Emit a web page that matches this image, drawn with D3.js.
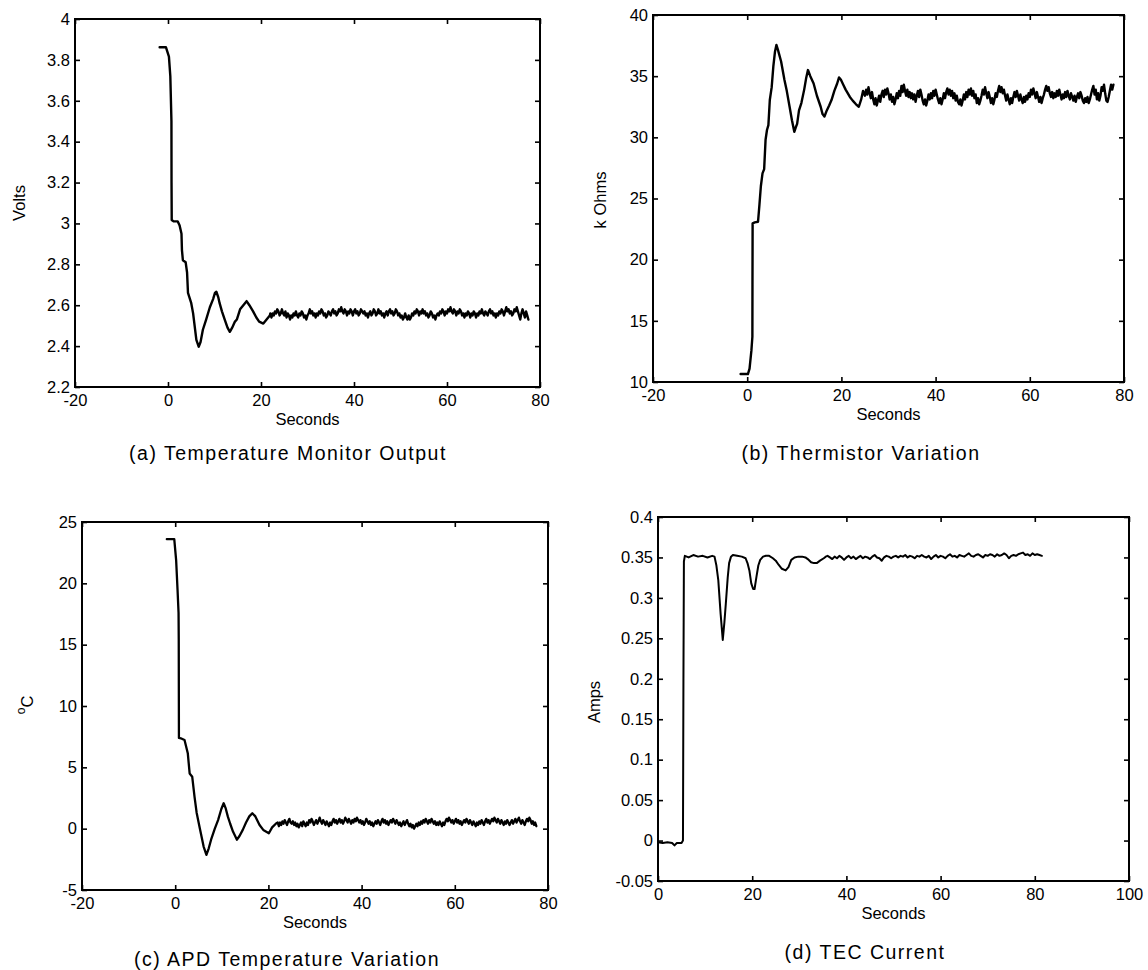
<!DOCTYPE html>
<html><head><meta charset="utf-8">
<script src="https://cdn.jsdelivr.net/npm/d3@7"></script>
<style>
body{margin:0;background:#fff}
svg{display:block}
text{font-family:"Liberation Sans",Arial,Helvetica,sans-serif;fill:#000}
</style>
</head><body>
<svg id="chart" width="1148" height="970"></svg>
<script>
// ---------- DATA ----------
// (a) Temperature Monitor Output (Volts)
const aTransient = [[-1.8,3.862],[-0.45,3.862],[0.2,3.816],[0.5,3.72],[0.74,3.5],[0.76,3.2],[0.8,3.017],[1.2,3.01],[2.1,3.01],[2.5,2.99],[2.9,2.95],[3.0,2.87],[3.2,2.82],[3.8,2.81],[4.1,2.76],[4.3,2.66],[5.0,2.61],[5.4,2.56],[6.1,2.43],[6.6,2.397],[7.0,2.42],[7.5,2.48],[8.2,2.53],[9.0,2.59],[9.7,2.63],[10.1,2.66],[10.4,2.666],[10.8,2.64],[11.1,2.61],[11.6,2.57],[12.2,2.53],[12.8,2.49],[13.3,2.47],[13.8,2.49],[14.4,2.52],[14.8,2.53],[15.5,2.58],[16.2,2.60],[16.9,2.62],[17.5,2.60],[18.3,2.57],[19.0,2.54],[19.6,2.52],[20.5,2.51],[21.2,2.53],[21.9,2.55],[22.0,2.56]];
const aSteadyStart = 22.25, aSteadyStep = 0.25;
const aSteady = [2.54,2.56,2.55,2.57,2.56,2.58,2.57,2.55,
2.56,2.58,2.56,2.55,2.57,2.54,2.56,2.55,
2.53,2.55,2.54,2.56,2.55,2.57,2.55,2.54,
2.56,2.55,2.57,2.56,2.54,2.55,2.53,2.55,
2.56,2.58,2.56,2.57,2.55,2.56,2.54,2.56,
2.55,2.57,2.56,2.58,2.57,2.55,2.56,2.54,
2.55,2.57,2.56,2.55,2.57,2.58,2.56,2.57,
2.55,2.56,2.58,2.57,2.59,2.57,2.56,2.58,
2.57,2.55,2.57,2.56,2.58,2.57,2.55,2.57,
2.58,2.56,2.57,2.55,2.56,2.58,2.57,2.56,
2.57,2.55,2.56,2.54,2.56,2.57,2.55,2.56,
2.58,2.57,2.55,2.56,2.58,2.56,2.57,2.55,
2.56,2.54,2.56,2.57,2.55,2.57,2.58,2.56,
2.57,2.55,2.56,2.58,2.57,2.55,2.56,2.54,
2.55,2.53,2.54,2.56,2.54,2.53,2.55,2.53,
2.54,2.56,2.55,2.57,2.56,2.58,2.57,2.55,
2.57,2.56,2.58,2.56,2.57,2.55,2.56,2.54,
2.55,2.57,2.56,2.54,2.55,2.53,2.55,2.56,
2.55,2.57,2.56,2.58,2.57,2.55,2.57,2.56,
2.58,2.57,2.59,2.57,2.56,2.58,2.57,2.55,
2.57,2.56,2.58,2.57,2.55,2.56,2.54,2.56,
2.55,2.57,2.56,2.54,2.56,2.55,2.57,2.56,
2.54,2.56,2.55,2.57,2.56,2.58,2.56,2.55,
2.57,2.56,2.55,2.57,2.58,2.56,2.57,2.55,
2.56,2.54,2.56,2.55,2.57,2.56,2.58,2.57,
2.55,2.57,2.59,2.57,2.58,2.56,2.57,2.55,
2.56,2.58,2.57,2.59,2.57,2.55,2.53,2.56,
2.58,2.56,2.54,2.57,2.55,2.53];
const aXTicks = [-20,0,20,40,60,80];
const aXTickLabels = ["-20","0","20","40","60","80"];
const aYTicks = [2.2,2.4,2.6,2.8,3.0,3.2,3.4,3.6,3.8,4.0];
const aYTickLabels = ["2.2","2.4","2.6","2.8","3","3.2","3.4","3.6","3.8","4"];

// (b) Thermistor Variation (k Ohms)
const bTransient = [[-1.4,10.65],[0.15,10.65],[0.5,11.1],[0.9,12.6],[1.1,13.7],[1.12,18],[1.15,22.97],[1.6,23.05],[2.3,23.1],[2.6,24.5],[2.9,26.0],[3.25,27.05],[3.6,27.4],[3.9,29.8],[4.2,30.6],[4.5,31.0],[4.8,33.05],[5.2,34.1],[5.55,35.8],[5.9,37.0],[6.2,37.55],[6.5,37.2],[6.7,36.9],[7.2,36.2],[7.9,34.7],[8.4,33.8],[9.0,32.5],[9.5,31.4],[10.0,30.45],[10.3,30.8],[10.6,31.1],[11.0,32.2],[11.5,32.8],[12.1,33.9],[12.5,34.8],[12.9,35.5],[13.4,35.0],[14.1,34.4],[14.8,33.4],[15.6,32.5],[16.0,31.9],[16.4,31.7],[16.9,32.2],[17.4,32.6],[17.9,33.05],[18.5,33.8],[19.1,34.4],[19.5,34.9],[19.9,34.7],[20.4,34.3],[20.9,33.9],[21.8,33.3],[22.4,33.0],[23.1,32.7],[23.7,32.5],[24.2,33.1],[24.6,33.8]];
const bSteadyStart = 25, bSteadyStep = 0.25;
const bSteady = [33.4,33.9,33.5,34.1,33.6,33.2,33.7,33.1,
32.7,33.2,32.6,33.0,33.4,32.9,33.5,33.8,
33.3,33.9,33.5,34.0,33.6,33.1,33.5,32.9,
33.3,32.7,33.1,33.6,33.2,33.8,33.4,34.2,
33.7,34.3,33.8,33.4,33.9,33.3,33.7,33.2,
33.6,33.1,33.5,32.9,33.4,33.8,33.3,33.9,
33.5,33.0,32.7,33.1,32.6,33.0,33.5,33.1,
33.6,33.2,33.8,33.4,33.9,33.5,33.1,32.8,
33.2,32.7,33.1,33.6,33.2,33.7,34.0,33.5,
33.9,33.4,33.8,33.2,33.6,33.0,33.4,32.9,
32.7,33.1,32.6,33.0,33.5,33.1,33.7,33.3,
33.9,33.5,34.0,33.4,33.8,33.2,33.5,32.8,
33.2,32.7,33.0,33.4,33.9,33.5,34.1,33.6,
33.2,33.7,33.3,32.8,33.2,32.7,33.1,33.6,
33.3,33.8,34.2,33.7,34.1,33.6,33.9,33.4,
33.0,33.5,33.1,32.7,33.2,32.8,33.3,33.7,
33.3,33.8,33.4,33.0,33.5,33.1,32.8,33.3,
32.9,33.4,33.1,33.6,33.3,33.9,33.5,34.0,
33.6,33.2,33.7,33.3,32.9,33.3,32.8,33.2,
33.5,33.9,34.2,33.8,34.1,33.6,33.3,33.7,
33.2,33.6,33.3,33.8,33.4,33.9,33.5,33.1,
33.5,33.2,33.7,33.3,33.8,33.4,33.1,33.6,
33.3,33.0,33.4,32.9,33.3,33.6,33.2,33.7,
33.4,33.0,32.8,33.2,32.9,33.3,32.8,33.1,
33.5,33.9,34.2,33.5,33.9,33.1,33.6,33.0,
33.4,34.1,33.8,34.3,33.6,33.0,32.9,33.3,
33.8,34.3,33.9,34.3];
const bXTicks = [-20,0,20,40,60,80];
const bXTickLabels = ["-20","0","20","40","60","80"];
const bYTicks = [10,15,20,25,30,35,40];
const bYTickLabels = ["10","15","20","25","30","35","40"];

// (c) APD Temperature Variation (deg C)
const cTransient = [[-1.8,23.6],[-0.2,23.6],[0.2,21.9],[0.5,19.5],[0.72,17.6],[0.76,15.4],[0.8,7.4],[1.2,7.37],[2.0,7.23],[2.7,6.15],[3.1,4.5],[3.65,4.24],[4.15,2.6],[4.6,1.3],[5.2,0.17],[6.1,-1.46],[6.7,-2.14],[7.2,-1.6],[7.7,-0.9],[8.5,0.0],[9.2,0.7],[9.9,1.6],[10.4,2.07],[10.8,1.7],[11.3,0.98],[11.8,0.4],[12.4,-0.24],[13.25,-0.9],[13.8,-0.6],[14.5,-0.1],[15.2,0.5],[15.9,1.0],[16.55,1.26],[17.2,1.0],[18.1,0.3],[18.9,-0.1],[20.1,-0.37],[20.8,0.1],[21.7,0.44],[22.0,0.5]];
const cSteadyStart = 22.25, cSteadyStep = 0.25;
const cSteady = [0.2,0.5,0.3,0.6,0.4,0.7,0.5,0.3,
0.6,0.8,0.5,0.4,0.6,0.3,0.5,0.2,
0.4,0.1,0.3,0.5,0.2,0.6,0.4,0.2,
0.5,0.3,0.7,0.5,0.8,0.6,0.3,0.5,
0.7,0.4,0.6,0.9,0.6,0.4,0.7,0.5,
0.3,0.6,0.4,0.2,0.5,0.3,0.6,0.8,
0.5,0.7,0.4,0.6,0.8,0.5,0.7,0.4,
0.6,0.9,0.7,0.5,0.8,0.6,0.4,0.7,
0.5,0.8,0.6,0.9,0.7,0.5,0.7,0.4,
0.6,0.3,0.5,0.8,0.6,0.4,0.6,0.3,
0.5,0.2,0.4,0.6,0.4,0.7,0.5,0.3,
0.6,0.8,0.5,0.7,0.4,0.6,0.3,0.5,
0.7,0.5,0.8,0.6,0.4,0.7,0.5,0.3,
0.5,0.2,0.4,0.6,0.3,0.5,0.7,0.4,
0.2,0.4,0.1,0.3,0.0,0.2,0.4,0.2,
0.5,0.3,0.6,0.4,0.7,0.5,0.8,0.6,
0.4,0.7,0.5,0.8,0.6,0.4,0.6,0.3,
0.5,0.3,0.6,0.4,0.2,0.5,0.3,0.6,
0.8,0.6,0.9,0.7,0.5,0.7,0.4,0.6,
0.8,0.5,0.7,0.4,0.6,0.3,0.5,0.7,
0.5,0.8,0.6,0.4,0.7,0.5,0.3,0.6,
0.4,0.2,0.5,0.3,0.6,0.4,0.7,0.5,
0.3,0.6,0.8,0.5,0.7,0.4,0.6,0.8,
0.6,0.9,0.7,0.5,0.8,0.6,0.4,0.7,
0.5,0.3,0.6,0.4,0.7,0.5,0.3,0.5,
0.7,0.4,0.6,0.8,0.5,0.7,0.9,0.6,
0.4,0.7,0.5,0.3,0.6,0.8,0.6,0.9,
0.7,0.4,0.6,0.3,0.5,0.2];
const cXTicks = [-20,0,20,40,60,80];
const cXTickLabels = ["-20","0","20","40","60","80"];
const cYTicks = [-5,0,5,10,15,20,25];
const cYTickLabels = ["-5","0","5","10","15","20","25"];

// (d) TEC Current (Amps)
const dTransient = [[0,-0.002],[1,-0.003],[2,-0.002],[3,-0.003],[3.5,-0.006],[4,-0.003],[5,-0.003],[5.3,0.0],[5.4,0.2],[5.5,0.345],[5.7,0.352],[6.5,0.350],[7.5,0.353],[8.5,0.351],[9.5,0.352],[10.5,0.350],[11.5,0.352],[12.0,0.351],[12.4,0.340],[12.8,0.322],[13.3,0.28],[13.75,0.248],[14.1,0.27],[14.4,0.293],[14.8,0.325],[15.1,0.343],[15.5,0.351],[15.9,0.353],[16.8,0.352],[17.8,0.351],[18.6,0.349],[19.0,0.343],[19.4,0.334],[19.8,0.318],[20.2,0.311],[20.5,0.311],[20.9,0.326],[21.3,0.340],[21.7,0.347],[22.3,0.351],[22.9,0.352],[23.6,0.352],[24.4,0.349],[25.0,0.346],[25.6,0.341],[26.3,0.336],[27.1,0.334],[27.7,0.338],[28.3,0.347],[29.0,0.350],[29.8,0.351],[30.6,0.351],[31.3,0.350],[31.8,0.348],[32.5,0.344],[33.1,0.343],[33.7,0.343],[34.4,0.346],[35.2,0.349],[35.6,0.351]];
const dSteadyStart = 36, dSteadyStep = 0.5;
const dSteady = [0.352,0.350,0.348,0.351,0.349,0.352,0.350,0.347,0.350,0.352,
0.349,0.351,0.348,0.350,0.352,0.349,0.351,0.350,0.348,0.351,
0.353,0.350,0.349,0.346,0.350,0.352,0.351,0.349,0.351,0.352,
0.350,0.352,0.351,0.353,0.350,0.352,0.351,0.349,0.352,0.351,
0.353,0.351,0.350,0.352,0.348,0.351,0.353,0.350,0.352,0.351,
0.349,0.352,0.354,0.351,0.352,0.350,0.353,0.352,0.351,0.353,
0.355,0.352,0.351,0.353,0.354,0.352,0.350,0.353,0.352,0.354,
0.353,0.351,0.354,0.352,0.353,0.355,0.353,0.349,0.352,0.353,
0.352,0.354,0.355,0.356,0.353,0.354,0.352,0.355,0.353,0.354,
0.353,0.352];
const dXTicks = [0,20,40,60,80,100];
const dXTickLabels = ["0","20","40","60","80","100"];
const dYTicks = [-0.05,0,0.05,0.1,0.15,0.2,0.25,0.3,0.35,0.4];
const dYTickLabels = ["-0.05","0","0.05","0.1","0.15","0.2","0.25","0.3","0.35","0.4"];

const xAxisTitle = "Seconds";
const captions = ["(a) Temperature Monitor Output","(b) Thermistor Variation","(c) APD Temperature Variation","(d) TEC Current"];
const yAxisTitles = ["Volts","k Ohms","C","Amps"];

// ---------- BUILD ----------
function joinSeries(trans, start, step, steady){
  return trans.concat(steady.map((v,i)=>[start+i*step, v]));
}

const panels = [
  {box:{l:75,r:540,t:19,b:387}, xd:[-20,80], yd:[2.2,4],
   data:joinSeries(aTransient,aSteadyStart,aSteadyStep,aSteady),
   xt:aXTicks, xl:aXTickLabels, yt:aYTicks, yl:aYTickLabels,
   ytitle:yAxisTitles[0], ytx:19, yty:203, cap:captions[0], capx:288, capy:460, sw:2.4},
  {box:{l:653,r:1124,t:15,b:382}, xd:[-20,80], yd:[10,40],
   data:joinSeries(bTransient,bSteadyStart,bSteadyStep,bSteady),
   xt:bXTicks, xl:bXTickLabels, yt:bYTicks, yl:bYTickLabels,
   ytitle:yAxisTitles[1], ytx:600, yty:200, cap:captions[1], capx:861, capy:460, sw:2.4},
  {box:{l:82,r:548,t:522,b:890}, xd:[-20,80], yd:[-5,25],
   data:joinSeries(cTransient,cSteadyStart,cSteadyStep,cSteady),
   xt:cXTicks, xl:cXTickLabels, yt:cYTicks, yl:cYTickLabels,
   ytitle:yAxisTitles[2], deg:true, ytx:27, yty:705, cap:captions[2], capx:287, capy:966, sw:2.3},
  {box:{l:658,r:1129,t:517,b:881}, xd:[0,100], yd:[-0.05,0.4],
   data:joinSeries(dTransient,dSteadyStart,dSteadyStep,dSteady),
   xt:dXTicks, xl:dXTickLabels, yt:dYTicks, yl:dYTickLabels,
   ytitle:yAxisTitles[3], ytx:594, yty:702, cap:captions[3], capx:865, capy:959, sw:2.0}
];

const svg = d3.select("#chart");
const tickFont = 16.5;

panels.forEach(p=>{
  const B = p.box;
  const x = d3.scaleLinear().domain(p.xd).range([B.l,B.r]);
  const y = d3.scaleLinear().domain(p.yd).range([B.b,B.t]);
  const g = svg.append("g");

  const bottom = g.append("g").attr("transform",`translate(0,${B.b})`)
    .call(d3.axisBottom(x).tickValues(p.xt).tickFormat((d,i)=>p.xl[i]).tickSizeInner(-5).tickSizeOuter(0).tickPadding(7));
  const top = g.append("g").attr("transform",`translate(0,${B.t})`)
    .call(d3.axisTop(x).tickValues(p.xt).tickFormat("").tickSizeInner(-5).tickSizeOuter(0));
  const left = g.append("g").attr("transform",`translate(${B.l},0)`)
    .call(d3.axisLeft(y).tickValues(p.yt).tickFormat((d,i)=>p.yl[i]).tickSizeInner(-5).tickSizeOuter(0).tickPadding(5));
  const right = g.append("g").attr("transform",`translate(${B.r},0)`)
    .call(d3.axisRight(y).tickValues(p.yt).tickFormat("").tickSizeInner(-5).tickSizeOuter(0));
  [bottom,top,left,right].forEach(a=>{
    a.select(".domain").remove();
    a.selectAll(".tick line").attr("stroke","#000").attr("stroke-width",1.6);
    a.selectAll(".tick text").attr("font-size",tickFont).attr("fill","#000")
      .attr("font-family",'"Liberation Sans",Arial,sans-serif');
  });

  const line = d3.line().x(d=>x(d[0])).y(d=>y(d[1]));
  g.append("path").datum(p.data).attr("d",line)
    .attr("fill","none").attr("stroke","#000").attr("stroke-width",p.sw)
    .attr("stroke-linejoin","round").attr("stroke-linecap","round");

  g.append("rect").attr("x",B.l).attr("y",B.t).attr("width",B.r-B.l).attr("height",B.b-B.t)
    .attr("fill","none").attr("stroke","#000").attr("stroke-width",2);

  g.append("text").attr("x",(B.l+B.r)/2).attr("y",B.b+38).attr("text-anchor","middle")
    .attr("font-size",16.5).text(xAxisTitle);

  const yt = g.append("text").attr("transform",`translate(${p.ytx},${p.yty}) rotate(-90)`)
    .attr("text-anchor","middle").attr("dominant-baseline","central").attr("font-size",16.5);
  if(p.deg){
    yt.append("tspan").attr("font-size",12).attr("dy","-6").text("o");
    yt.append("tspan").attr("dy","6").text(p.ytitle);
  } else {
    yt.text(p.ytitle);
  }

  g.append("text").attr("x",p.capx).attr("y",p.capy).attr("text-anchor","middle")
    .attr("font-size",19.5).attr("letter-spacing","1.5px").text(p.cap);
});
</script>
</body></html>
